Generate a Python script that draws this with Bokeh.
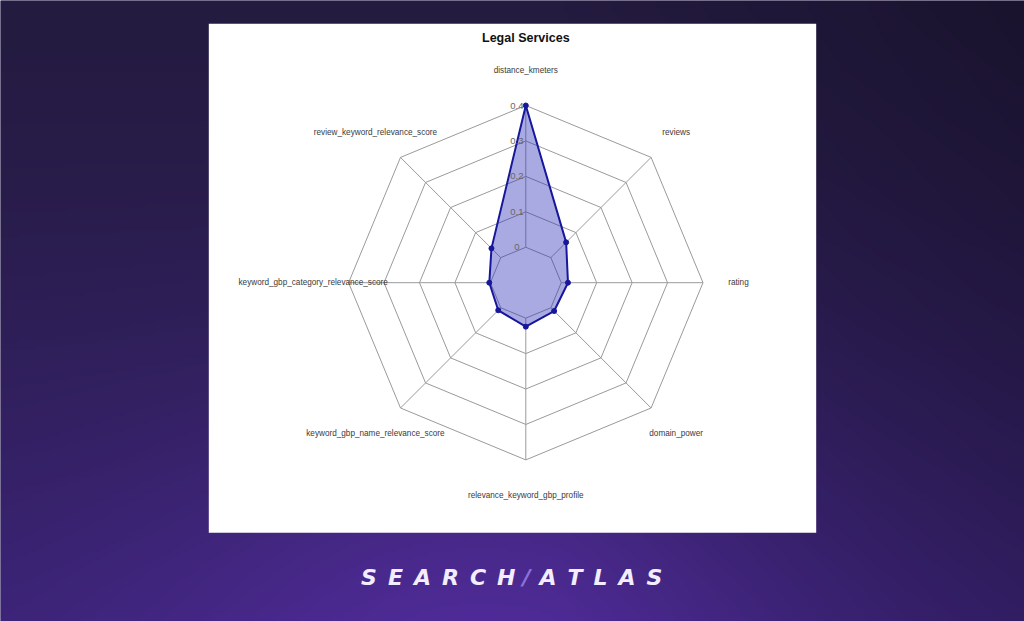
import numpy as np
from bokeh.plotting import figure
from bokeh.models import Range1d, ColumnDataSource
from bokeh.embed import file_html
from bokeh.resources import INLINE
from bokeh.core.properties import value

# ---------------- data ----------------
title_text = "Legal Services"
categories = [
    "distance_kmeters",
    "review_keyword_relevance_score",
    "keyword_gbp_category_relevance_score",
    "keyword_gbp_name_relevance_score",
    "relevance_keyword_gbp_profile",
    "domain_power",
    "rating",
    "reviews",
]
values = [0.400, 0.037, 0.003, 0.010, 0.024, 0.013, 0.019, 0.061]
axis_min = 0.0
axis_max = 0.4
ring_values = [0.0, 0.1, 0.2, 0.3, 0.4]
ring_labels = ["0", "0.1", "0.2", "0.3", "0.4"]
brand_left = "S\u2002E\u2002A\u2002R\u2002C\u2002H"
brand_slash = "/"
brand_right = "A\u2002T\u2002L\u2002A\u2002S"

# ---------------- layout ----------------
W, H = 1024, 621
OFF = 0
CX, CY, R = 525.3, 282.2, 177.2   # radar centre / radius in page pixels


def px(X):
    return (X - CX) / R


def py(Y):
    return (CY - Y) / R


p = figure(width=W, height=H,
           x_range=Range1d(px(OFF), px(OFF + W)),
           y_range=Range1d(py(OFF + H), py(OFF)),
           output_backend="svg", toolbar_location=None, min_border=0,
           x_axis_location=None, y_axis_location=None)
p.grid.visible = False
p.outline_line_color = None
p.background_fill_color = "#2a1f52"
p.border_fill_color = "#2a1f52"

# ---------------- background gradient ----------------
gw, gh = 256, 160
gx, gy = np.meshgrid(np.linspace(0, 1, gw), np.linspace(0, 1, gh))
top_c = np.array([36, 27, 64], dtype=float)
bot_c = np.array([58, 35, 116], dtype=float)
t = gy ** 1.3
col = top_c[None, None, :] * (1 - t[..., None]) + bot_c[None, None, :] * t[..., None]
glow = np.exp(-((gx - 0.47) / 0.33) ** 2 - ((gy - 1.0) / 0.38) ** 2)
col += glow[..., None] * np.array([20, 8, 34], dtype=float)
dark = 1 - 0.28 * np.clip((gx - 0.55) / 0.45, 0, 1) * (1 - 0.4 * gy)
col *= dark[..., None]
col = np.clip(col, 0, 255).astype(np.uint8)
img = np.empty((gh, gw), dtype=np.uint32)
view = img.view(dtype=np.uint8).reshape((gh, gw, 4))
view[..., 0] = col[..., 0]
view[..., 1] = col[..., 1]
view[..., 2] = col[..., 2]
view[..., 3] = 255
p.image_rgba(image=[img[::-1]], x=px(OFF), y=py(OFF + H), dw=W / R, dh=H / R)

# white panel
p.quad(left=px(208.3), right=px(815.7), top=py(23.3), bottom=py(532.3),
       fill_color="white", line_color=None)

# ---------------- radar ----------------
n = len(categories)
seg = len(ring_values) - 1
theta = np.pi / 2 + 2 * np.pi * np.arange(n) / n


def rad(v):
    return (1 + seg * (v - axis_min) / (axis_max - axis_min)) / (seg + 1)


ring_xs, ring_ys = [], []
for rv in ring_values:
    r = rad(rv)
    ring_xs.append(list(r * np.cos(np.append(theta, theta[0]))))
    ring_ys.append(list(r * np.sin(np.append(theta, theta[0]))))
p.multi_line(xs=ring_xs, ys=ring_ys, line_color="#9a9a9a", line_width=1)

r0 = rad(axis_min)
p.segment(x0=r0 * np.cos(theta), y0=r0 * np.sin(theta),
          x1=np.cos(theta), y1=np.sin(theta),
          line_color="#9a9a9a", line_width=1)

vr = np.array([rad(v) for v in values])
vx = vr * np.cos(theta)
vy = vr * np.sin(theta)
p.patch(x=list(vx), y=list(vy), fill_color="#2b2bb8", fill_alpha=0.4,
        line_color="#17179c", line_width=2)
p.scatter(x=vx, y=vy, size=5, fill_color="#17179c", line_color="#17179c")

# ring labels
p.text(x=[-0.05] * len(ring_values), y=[rad(v) for v in ring_values],
       text=ring_labels, text_align="center", text_baseline="middle",
       text_font=value("Liberation Sans"), text_font_size="9.5px",
       text_color="#666666")

# category labels
lab_src = ColumnDataSource(dict(x=1.2 * np.cos(theta), y=1.2 * np.sin(theta),
                                text=categories))
p.text(x="x", y="y", text="text", source=lab_src, text_align="center",
       text_baseline="middle", text_font=value("Liberation Sans"),
       text_font_size="8.2px", text_color="#3a3a3a")

# title
p.text(x=[px(525.3)], y=[py(37)], text=[title_text], text_align="center",
       text_baseline="middle", text_font=value("Liberation Sans"),
       text_font_size="12.5px", text_font_style="bold", text_color="#111111")

# brand
p.text(x=[px(515)], y=[py(576.5)], text=[brand_left], text_align="right",
       text_baseline="middle", text_font=value("DejaVu Sans"),
       text_font_size="22px", text_font_style="bold italic", text_color="#f3eeff")
p.text(x=[px(526)], y=[py(576.5)], text=[brand_slash], text_align="center",
       text_baseline="middle", text_font=value("DejaVu Sans"),
       text_font_size="22px", text_font_style="bold italic", text_color="#8d70dc")
p.text(x=[px(539)], y=[py(576.5)], text=[brand_right], text_align="left",
       text_baseline="middle", text_font=value("DejaVu Sans"),
       text_font_size="22px", text_font_style="bold italic", text_color="#f3eeff")

open("out.html", "w").write(file_html(p, INLINE))
